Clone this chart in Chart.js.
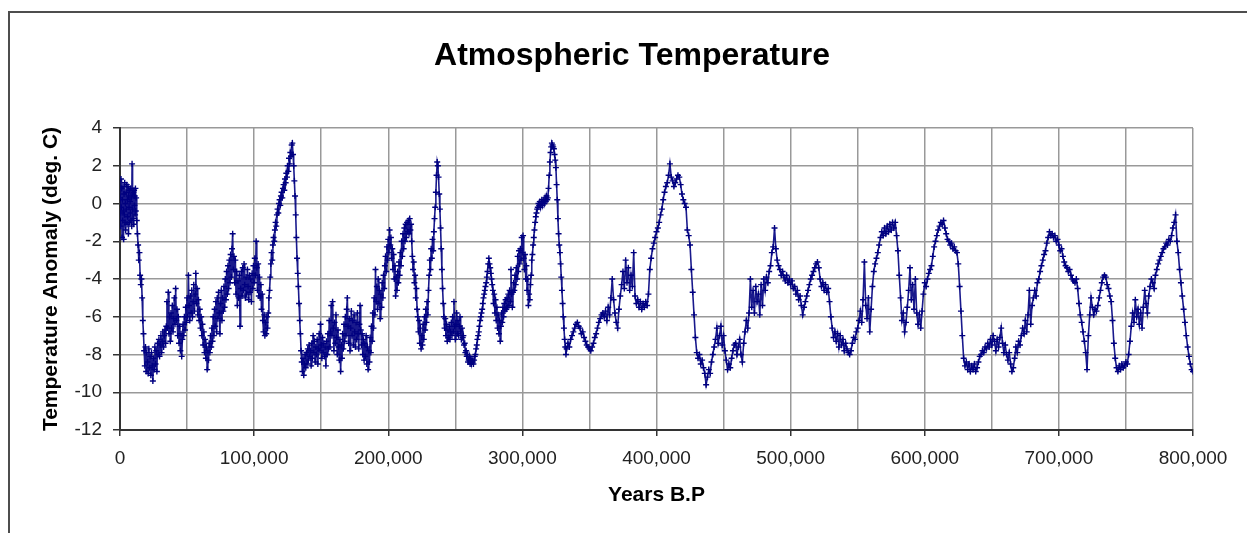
<!DOCTYPE html>
<html><head><meta charset="utf-8">
<script src="https://cdn.jsdelivr.net/npm/chart.js@4.4.1/dist/chart.umd.min.js"></script>
<style>
html,body{margin:0;padding:0;background:#fff;overflow:hidden}
#wrap{position:relative;width:1247px;height:533px}
#frame{position:absolute;left:8px;top:11px;width:1300px;height:600px;border-top:2px solid #4d4d4d;border-left:2px solid #4d4d4d}
canvas{position:absolute;left:0;top:0}
</style></head><body>
<div id="wrap"><div id="frame"></div><canvas id="c" width="1247" height="533"></canvas></div>
<script>
// Age in thousands of years before present
const ageKyr = [
0,0.25,0.5,0.75,1,1.25,1.5,1.75,2,2.25,
2.5,2.75,3,3.25,3.5,3.75,4,4.25,4.5,4.75,
5,5.25,5.5,5.75,6,6.25,6.5,6.75,7,7.25,
7.5,7.75,8,8.25,8.5,8.75,9,9.25,9.5,9.75,
10,10.25,10.5,10.75,11,11.25,11.5,11.75,12,12.5,
13,
13.5,14,14.5,15,15.5,16,16.5,17,17.5,18,
18.5,19,19.5,20,20.5,21,21.5,22,22.5,23,
23.5,24,24.5,25,25.5,26,26.5,27,27.5,28,
28.5,29,29.5,30,30.5,31,31.5,32,32.5,33,
33.5,34,34.5,35,35.5,36,36.5,37,37.5,38,
38.5,39,39.5,40,40.5,41,41.5,42,42.5,43,
43.5,44,44.5,45,45.5,46,46.5,47,47.5,48,
48.5,49,49.5,50,50.5,51,51.5,52,52.5,53,
53.5,54,54.5,55,55.5,56,56.5,57,57.5,58,
58.5,59,59.5,60,60.5,61,61.5,62,62.5,63,
63.5,64,64.5,65,65.5,66,66.5,67,67.5,68,
68.5,69,69.5,70,70.5,71,71.5,72,72.5,73,
73.5,74,74.5,75,75.5,76,76.5,77,77.5,78,
78.5,79,79.5,80,80.5,81,81.5,82,82.5,83,
83.5,84,84.5,85,85.5,86,86.5,87,87.5,88,
88.5,89,89.5,90,90.5,91,91.5,92,92.5,93,
93.5,94,94.5,95,95.5,96,96.5,97,97.5,98,
98.5,99,99.5,100,100.5,101,101.5,102,102.5,103,
103.5,104,104.5,105,105.5,106,106.5,107,107.5,108,
108.5,109,109.5,110,110.5,111,111.5,112,112.5,113,
113.5,114,114.5,115,115.5,116,116.5,117,117.5,118,
118.5,119,119.5,120,120.5,121,121.5,122,122.5,123,
123.5,124,124.5,125,125.5,126,126.5,127,127.5,128,
128.5,129,129.5,130,130.5,131,131.5,132,132.5,133,
133.5,134,134.5,135,135.5,136,136.5,137,137.5,138,
138.5,139,139.5,140,140.5,141,141.5,142,142.5,143,
143.5,144,144.5,145,145.5,146,146.5,147,147.5,148,
148.5,149,149.5,150,150.5,151,151.5,152,152.5,153,
153.5,154,154.5,155,155.5,156,156.5,157,157.5,158,
158.5,159,159.5,160,160.5,161,161.5,162,162.5,163,
163.5,164,164.5,165,165.5,166,166.5,167,167.5,168,
168.5,169,169.5,170,170.5,171,171.5,172,172.5,173,
173.5,174,174.5,175,175.5,176,176.5,177,177.5,178,
178.5,179,179.5,180,180.5,181,181.5,182,182.5,183,
183.5,184,184.5,185,185.5,186,186.5,187,187.5,188,
188.5,189,189.5,190,190.5,191,191.5,192,192.5,193,
193.5,194,194.5,195,195.5,196,196.5,197,197.5,198,
198.5,199,199.5,200,200.5,201,201.5,202,202.5,203,
203.5,204,204.5,205,205.5,206,206.5,207,207.5,208,
208.5,209,209.5,210,210.5,211,211.5,212,212.5,213,
213.5,214,214.5,215,215.5,216,216.5,217,217.5,218,
218.5,219,219.5,220,220.5,221,221.5,222,222.5,223,
223.5,224,224.5,225,225.5,226,226.5,227,227.5,228,
228.5,229,229.5,230,230.5,231,231.5,232,232.5,233,
233.5,234,234.5,235,235.5,236,236.5,237,237.5,238,
238.5,239,239.5,240,240.5,241,241.5,242,242.5,243,
243.5,244,244.5,245,245.5,246,246.5,247,247.5,248,
248.5,249,249.5,250,250.5,251,251.5,252,252.5,253,
253.5,254,254.5,255,255.5,256,256.5,257,257.5,258,
258.5,259,259.5,260,260.5,261,261.5,262,262.5,263,
263.5,264,264.5,265,265.5,266,266.5,267,267.5,268,
268.5,269,269.5,270,270.5,271,271.5,272,272.5,273,
273.5,274,274.5,275,275.5,276,276.5,277,277.5,278,
278.5,279,279.5,280,280.5,281,281.5,282,282.5,283,
283.5,284,284.5,285,285.5,286,286.5,287,287.5,288,
288.5,289,289.5,290,290.5,291,291.5,292,292.5,293,
293.5,294,294.5,295,295.5,296,296.5,297,297.5,298,
298.5,299,299.5,300,300.5,301,301.5,302,302.5,303,
303.5,304,304.5,305,305.5,306,306.5,307,307.5,308,
308.5,309,309.5,310,310.5,311,311.5,312,312.5,313,
313.5,314,314.5,315,315.5,316,316.5,317,317.5,318,
318.5,319,319.5,320,320.5,321,321.5,322,322.5,323,
323.5,324,324.5,325,325.5,326,326.5,327,327.5,328,
328.5,329,329.5,330,330.5,331,331.5,332,332.5,333,
334,335,336,337,338,339,340,341,342,343,
344,345,346,347,348,349,350,351,352,353,
354,355,356,357,358,359,360,361,362,363,
364,365,366,367,368,369,370,371,372,373,
374,375,376,377,378,379,380,381,382,383,
384,385,386,387,388,389,390,391,392,393,
394,395,396,397,398,399,400,401,402,403,
404,405,406,407,408,409,410,411,412,413,
414,415,416,417,418,419,420,421,422,423,
424,425,426,427,428,429,430,431,432,433,
434,435,436,437,438,439,440,441,442,443,
444,445,446,447,448,449,450,451,452,453,
454,455,456,457,458,459,460,461,462,463,
464,465,466,467,468,469,470,471,472,473,
474,475,476,477,478,479,480,481,482,483,
484,485,486,487,488,489,490,491,492,493,
494,495,496,497,498,499,500,501,502,503,
504,505,506,507,508,509,510,511,512,513,
514,515,516,517,518,519,520,521,522,523,
524,525,526,527,528,529,530,531,532,533,
534,535,536,537,538,539,540,541,542,543,
544,545,546,547,548,549,550,551,552,553,
554,555,556,557,558,559,560,561,562,563,
564,565,566,567,568,569,570,571,572,573,
574,575,576,577,578,579,580,581,582,583,
584,585,586,587,588,589,590,591,592,593,
594,595,596,597,598,599,600,601,602,603,
604,605,606,607,608,609,610,611,612,613,
614,615,616,617,618,619,620,621,622,623,
624,625,626,627,628,629,630,631,632,633,
634,635,636,637,638,639,640,641,642,643,
644,645,646,647,648,649,650,651,652,653,
654,655,656,657,658,659,660,661,662,663,
664,665,666,667,668,669,670,671,672,673,
674,675,676,677,678,679,680,681,682,683,
684,685,686,687,688,689,690,691,692,693,
694,695,696,697,698,699,700,701,702,703,
704,705,706,707,708,709,710,711,712,713,
714,715,716,717,718,719,720,721,722,723,
724,725,726,727,728,729,730,731,732,733,
734,735,736,737,738,739,740,741,742,743,
744,745,746,747,748,749,750,751,752,753,
754,755,756,757,758,759,760,761,762,763,
764,765,766,767,768,769,770,771,772,773,
774,775,776,777,778,779,780,781,782,783,
784,785,786,787,788,789,790,791,792,793,
794,795,796,797,798,799,800
];

// Temperature anomaly, deg. C
const tempC = [
-0.5,0.3,-1.2,1.3,-0.2,0.8,-1.8,0.2,-0.9,0.9,
-0.4,-1.9,0.5,-0.6,1.1,-1.0,0.0,-1.4,0.6,-0.3,
1.0,-1.1,0.2,-0.7,0.9,-1.6,0.4,-0.2,0.7,-1.0,
0.1,-0.5,0.8,-0.9,0.3,-1.2,2.1,-0.3,0.5,-0.8,
0.6,-1.1,0.7,-0.1,0.4,-0.6,0.8,-0.4,0.3,-0.9,
-1.6,
-2.2,-3.0,-2.6,-3.8,-4.3,-4.0,-5.0,-6.2,-6.9,-7.8,
-8.6,-7.6,-8.9,-7.9,-8.4,-9.0,-7.7,-8.7,-8.1,-9.1,
-7.9,-8.6,-9.4,-8.2,-8.8,-7.6,-8.5,-7.8,-8.9,-7.4,
-8.0,-7.2,-8.1,-7.5,-7.0,-7.9,-7.3,-6.8,-7.6,-7.0,
-6.7,-7.4,-6.5,-5.2,-6.6,-4.7,-6.9,-6.0,-7.3,-5.8,
-6.6,-5.4,-6.8,-6.1,-5.0,-6.4,-4.5,-6.2,-5.6,-7.0,
-6.0,-7.4,-6.5,-7.8,-6.9,-8.1,-7.2,-6.4,-7.0,-6.0,
-6.7,-5.5,-6.3,-5.0,-6.0,-3.8,-5.4,-6.2,-4.9,-5.8,
-4.6,-6.0,-5.2,-4.3,-5.7,-4.8,-3.7,-5.3,-4.5,-5.9,
-5.1,-6.2,-5.6,-6.6,-6.0,-7.0,-6.4,-7.5,-6.8,-7.9,
-7.2,-8.2,-7.6,-8.8,-7.8,-8.3,-7.4,-7.9,-7.0,-7.6,
-6.6,-7.3,-6.0,-7.0,-5.6,-6.5,-5.2,-6.8,-5.0,-6.1,
-4.7,-5.8,-6.9,-5.3,-4.6,-6.2,-5.0,-5.7,-4.4,-5.5,
-4.0,-5.1,-3.6,-4.8,-3.3,-4.5,-3.0,-4.2,-2.7,-3.9,
-2.4,-1.6,-3.5,-2.8,-4.2,-3.0,-4.8,-3.6,-5.4,-4.1,
-5.0,-3.8,-6.5,-4.5,-3.6,-4.9,-3.4,-4.6,-3.2,-4.3,
-5.0,-3.9,-4.8,-3.5,-4.4,-5.1,-3.8,-4.7,-4.0,-5.2,
-3.7,-4.5,-3.3,-4.2,-2.9,-3.8,-2.0,-3.4,-4.6,-3.2,
-4.9,-3.9,-5.0,-4.3,-5.6,-4.8,-6.2,-6.8,-5.9,-7.0,
-6.3,-6.9,-6.0,-6.6,-5.8,-5.0,-4.6,-3.9,-3.2,-2.6,
-3.0,-2.2,-1.8,-2.0,-1.4,-1.0,-1.2,-0.6,-0.3,-0.5,
0.0,0.2,-0.1,0.4,0.6,0.3,0.8,1.0,0.7,1.3,
1.1,1.6,1.4,2.0,1.7,2.4,2.1,2.7,2.5,3.1,
3.2,2.6,2.0,1.2,0.4,-0.6,-1.8,-2.9,-3.7,-4.4,
-5.3,-6.2,-6.9,-7.8,-8.4,-8.9,-8.2,-9.1,-8.5,-8.0,
-8.7,-7.9,-8.5,-7.7,-8.3,-7.5,-8.1,-7.8,-8.6,-7.4,
-8.2,-7.0,-7.9,-7.3,-8.4,-7.6,-8.0,-7.2,-8.5,-7.7,
-6.9,-7.8,-6.4,-7.5,-8.2,-7.1,-7.9,-7.4,-8.1,-7.6,
-8.6,-7.3,-8.0,-6.9,-7.7,-6.2,-7.6,-6.8,-5.4,-7.0,
-5.2,-6.6,-7.8,-6.3,-7.4,-5.9,-7.1,-8.0,-6.7,-7.6,
-8.3,-7.2,-8.9,-7.5,-8.2,-6.9,-7.7,-6.4,-7.3,-6.0,
-7.0,-5.6,-5.0,-6.5,-7.4,-6.1,-7.8,-6.6,-5.7,-7.0,
-6.2,-7.5,-5.9,-6.8,-7.6,-6.3,-7.2,-5.8,-6.9,-7.7,
-6.4,-5.4,-6.7,-7.5,-6.9,-8.0,-7.2,-8.3,-7.4,-8.1,
-7.0,-8.5,-7.6,-8.8,-7.8,-8.4,-7.1,-7.9,-6.5,-7.3,
-5.8,-6.6,-5.0,-5.9,-3.5,-5.2,-4.4,-5.6,-4.0,-5.3,
-4.6,-6.1,-4.8,-5.5,-4.2,-5.0,-3.8,-4.5,-3.3,-2.8,
-3.6,-2.3,-3.0,-1.9,-2.6,-1.4,-2.2,-1.8,-2.9,-2.4,
-3.5,-2.7,-4.0,-3.3,-4.9,-3.9,-4.6,-3.6,-4.2,-3.1,
-3.8,-2.6,-3.3,-2.0,-2.8,-1.6,-2.4,-1.3,-2.0,-1.1,
-1.8,-1.0,-1.5,-0.9,-1.6,-0.8,-1.4,-1.1,-2.0,-2.8,
-3.5,-3.1,-4.2,-3.8,-5.0,-4.5,-5.6,-6.0,-6.8,-6.2,
-7.4,-6.6,-7.7,-7.0,-7.5,-6.4,-7.2,-6.0,-6.7,-5.6,
-6.3,-5.2,-5.9,-4.6,-3.8,-3.0,-3.5,-2.4,-2.9,-1.9,
-2.5,-1.5,-0.8,-0.2,0.6,1.5,2.2,2.0,1.4,0.5,
-0.3,-1.3,-2.4,-3.5,-4.5,-5.3,-6.0,-6.6,-6.1,-7.0,
-6.4,-7.3,-6.7,-7.1,-6.5,-7.2,-6.8,-6.3,-7.0,-6.0,
-6.8,-5.2,-6.5,-7.2,-6.4,-5.8,-6.9,-6.2,-7.0,-6.5,
-6.0,-6.8,-7.2,-6.6,-7.1,-7.0,-7.5,-7.4,-7.9,-7.8,
-8.1,-8.0,-8.4,-8.3,-8.1,-8.5,-8.2,-8.5,-8.3,-8.4,
-8.5,-8.3,-8.1,-8.0,-7.7,-7.5,-7.2,-7.0,-6.8,-6.5,
-6.2,-6.0,-5.8,-5.6,-5.3,-5.0,-4.8,-4.6,-4.4,-4.2,
-3.9,-3.6,-3.2,-2.9,-3.2,-3.4,-3.7,-4.0,-4.3,-4.6,
-5.3,-4.8,-5.8,-5.1,-6.2,-5.5,-6.6,-5.9,-6.9,-6.2,
-7.3,-6.5,-5.8,-6.3,-5.5,-6.0,-5.3,-5.7,-5.1,-5.6,
-5.0,-5.5,-4.8,-5.4,-4.6,-5.2,-3.5,-4.8,-5.5,-4.7,
-4.2,-4.6,-3.8,-4.3,-3.4,-4.0,-2.8,-3.6,-2.5,-3.2,
-2.4,-3.0,-1.8,-2.6,-1.7,-2.9,-3.5,-2.7,-4.0,-3.3,
-4.6,-4.0,-5.4,-4.8,-5.1,-4.3,-3.8,-3.0,-2.7,-2.2,
-1.8,-1.4,-1.0,-0.7,-0.5,-0.3,-0.2,0.0,-0.1,0.1,
-0.2,0.0,0.2,-0.1,0.1,0.2,0.0,0.3,0.1,0.4,
0.2,0.3,0.8,1.5,2.2,2.7,3.0,3.2,3.1,3.0,
2.9,2.6,2.3,1.9,1.0,0.2,-0.8,-1.6,-2.2,-2.6,
-3.2,-3.9,-4.6,-5.3,-6.0,-6.6,-7.2,-7.6,-8.0,-7.7,
-7.4,-7.6,-7.2,-7.0,-6.8,-6.6,-6.4,-6.3,-6.5,-6.6,
-6.9,-6.8,-7.1,-7.3,-7.5,-7.6,-7.7,-7.8,-7.6,-7.4,
-7.1,-6.9,-6.6,-6.3,-6.1,-5.9,-5.8,-6.0,-5.7,-6.2,
-5.5,-5.9,-5.0,-4.0,-5.1,-5.8,-6.3,-6.6,-5.6,-4.9,
-4.3,-3.6,-4.5,-3.0,-4.2,-3.4,-4.6,-3.8,-4.4,-2.6,
-4.9,-5.3,-5.1,-5.5,-5.2,-5.6,-5.3,-5.5,-5.2,-5.4,
-4.8,-3.5,-2.9,-2.4,-2.1,-1.8,-1.5,-1.3,-1.0,-0.6,
-0.3,0.2,0.6,0.9,1.1,1.5,2.1,1.4,1.2,0.9,
1.1,1.3,1.5,1.4,1.0,0.5,0.2,0.0,-0.2,-1.4,
-1.7,-2.2,-3.5,-4.7,-5.9,-7.1,-7.9,-8.2,-8.0,-8.5,
-8.3,-8.7,-9.0,-9.6,-9.2,-8.8,-9.0,-8.4,-8.0,-7.6,
-7.2,-6.6,-7.4,-7.0,-6.5,-7.5,-7.0,-7.8,-8.3,-8.8,
-8.5,-8.7,-8.2,-7.8,-7.5,-7.4,-8.0,-7.6,-7.2,-8.0,
-8.4,-7.4,-6.8,-6.2,-6.6,-5.8,-4.0,-5.5,-4.6,-5.8,
-4.4,-5.2,-4.8,-5.9,-4.3,-5.4,-4.0,-4.6,-3.9,-4.2,
-3.6,-3.3,-2.6,-2.3,-1.3,-2.4,-3.0,-3.3,-3.5,-3.8,
-3.6,-3.9,-4.1,-3.8,-4.2,-4.0,-4.3,-4.1,-4.5,-4.4,
-4.8,-4.6,-5.1,-4.9,-5.4,-5.9,-5.5,-5.2,-4.9,-4.6,
-4.3,-4.0,-3.8,-3.6,-3.4,-3.2,-3.1,-3.4,-4.0,-4.4,
-4.2,-4.6,-4.3,-4.7,-4.5,-5.2,-6.0,-6.6,-7.1,-6.8,
-7.3,-6.9,-7.6,-7.0,-7.5,-7.2,-7.8,-7.4,-7.7,-7.9,
-8.0,-7.8,-7.4,-7.1,-7.2,-6.8,-6.6,-6.2,-5.7,-6.3,
-5.1,-3.1,-5.4,-6.1,-5.0,-6.8,-5.6,-4.4,-3.6,-3.2,
-2.9,-2.6,-2.2,-1.8,-1.5,-1.7,-1.3,-1.6,-1.2,-1.5,
-1.1,-1.4,-1.0,-1.3,-1.0,-1.7,-2.5,-3.8,-5.0,-6.2,
-5.8,-6.8,-6.3,-5.5,-4.6,-3.4,-5.1,-4.3,-5.6,-4.0,
-5.8,-6.4,-5.9,-6.6,-5.7,-4.8,-4.2,-4.4,-4.0,-3.7,
-3.5,-3.3,-2.8,-2.3,-2.0,-1.7,-1.4,-1.2,-1.0,-1.1,
-0.9,-1.3,-1.6,-1.9,-2.0,-2.2,-2.1,-2.4,-2.3,-2.5,
-2.6,-3.2,-4.4,-5.7,-7.0,-8.2,-8.6,-8.4,-8.8,-8.5,
-8.9,-8.6,-8.8,-8.5,-8.9,-8.7,-8.4,-8.1,-8.0,-7.8,
-7.9,-7.6,-7.7,-7.4,-7.6,-7.2,-7.5,-7.0,-7.3,-7.8,
-7.2,-7.6,-7.1,-6.6,-7.4,-7.9,-7.5,-8.0,-8.3,-7.9,
-8.5,-8.9,-8.7,-8.2,-7.6,-7.9,-7.3,-7.5,-7.0,-6.6,
-6.9,-6.2,-6.8,-5.9,-4.6,-6.4,-5.4,-5.0,-4.6,-4.9,
-4.2,-4.0,-3.6,-3.3,-3.0,-2.7,-2.5,-2.1,-1.8,-1.5,
-1.7,-1.6,-1.8,-1.7,-2.0,-1.9,-2.2,-2.5,-2.4,-2.8,
-3.1,-3.3,-3.4,-3.6,-3.5,-3.8,-4.0,-4.1,-4.2,-4.0,
-4.5,-5.3,-5.9,-6.3,-6.8,-7.3,-7.9,-8.8,-7.0,-5.9,
-5.0,-5.5,-5.9,-5.6,-5.7,-5.4,-5.0,-4.6,-4.2,-3.9,
-3.8,-3.9,-4.3,-4.5,-4.9,-5.2,-6.2,-7.4,-8.2,-8.7,
-8.9,-8.6,-8.8,-8.5,-8.7,-8.6,-8.4,-8.5,-8.0,-7.3,
-6.5,-5.8,-6.3,-5.1,-6.0,-5.6,-6.4,-5.8,-6.6,-5.5,
-4.6,-5.3,-5.8,-4.9,-4.4,-4.0,-4.2,-4.5,-3.8,-3.5,
-3.2,-3.0,-2.8,-2.6,-2.4,-2.3,-2.1,-2.2,-1.9,-2.0,
-1.7,-1.3,-1.0,-0.6,-2.0,-2.6,-3.5,-4.2,-4.9,-5.6,
-6.3,-7.0,-7.6,-8.1,-8.5,-8.8,-8.9
];

const xTickValues = [0,100000,200000,300000,400000,500000,600000,700000,800000];
const xTickLabels = ['0','100,000','200,000','300,000','400,000','500,000','600,000','700,000','800,000'];
const yTickValues = [4,2,0,-2,-4,-6,-8,-10,-12];

const FONT = '"Liberation Sans", Arial, sans-serif';
const points = ageKyr.map((a, i) => ({ x: a * 1000, y: tempC[i] }));

new Chart(document.getElementById('c'), {
  type: 'line',
  data: {
    datasets: [{
      data: points,
      borderColor: 'rgba(0,0,128,0.9)',
      borderWidth: 1.6,
      pointStyle: 'cross',
      pointRadius: 3,
      pointBorderWidth: 1.4,
      pointBorderColor: '#000080',
      pointBackgroundColor: '#000080',
      tension: 0,
      fill: false,
      xAxisID: 'x',
      yAxisID: 'y'
    }]
  },
  options: {
    responsive: false,
    animation: false,
    devicePixelRatio: 1,
    layout: { padding: { left: 17, right: 0, top: 0, bottom: 0 } },
    plugins: {
      legend: { display: false },
      tooltip: { enabled: false },
      title: {
        display: true,
        text: 'Atmospheric Temperature',
        color: '#000',
        font: { family: FONT, size: 32, weight: 'bold' },
        padding: { top: 37, bottom: 52.6 }
      }
    },
    scales: {
      x: {
        type: 'linear',
        position: 'bottom',
        min: 0,
        max: 800000,
        afterFit(s) { s.height = 103; },
        ticks: {
          stepSize: 50000,
          autoSkip: false,
          maxRotation: 0,
          padding: 11,
          color: '#222',
          font: { family: FONT, size: 19 },
          callback: (v) => { const k = xTickValues.indexOf(v); return k >= 0 ? xTickLabels[k] : ''; }
        },
        grid: {
          color: '#999',
          lineWidth: 1.5,
          tickLength: 6,
          tickColor: (ctx) => (ctx.tick && xTickValues.indexOf(ctx.tick.value) >= 0) ? '#333' : 'rgba(0,0,0,0)'
        },
        border: { display: true, color: '#333', width: 2 },
        title: {
          display: true,
          text: 'Years B.P',
          color: '#000',
          font: { family: FONT, size: 21, weight: 'bold' },
          padding: { top: 0, bottom: 25 }
        }
      },
      y: {
        type: 'linear',
        position: 'left',
        min: -12,
        max: 4,
        afterFit(s) { s.width = 103; },
        afterBuildTicks(s) { s.ticks = yTickValues.map(v => ({ value: v })); },
        ticks: {
          padding: 11,
          color: '#222',
          font: { family: FONT, size: 19 },
          callback: (v) => String(v)
        },
        grid: { color: '#999', lineWidth: 1.5, tickLength: 7, tickColor: '#333' },
        border: { display: true, color: '#333', width: 2 },
        title: {
          display: true,
          text: 'Temperature Anomaly (deg. C)',
          color: '#000',
          font: { family: FONT, size: 21, weight: 'bold' },
          padding: { top: 22, bottom: 0 }
        }
      },
      y2: {
        type: 'linear',
        position: 'right',
        display: true,
        afterFit(s) { s.width = 54; },
        grid: { display: false, drawTicks: false },
        ticks: { display: false },
        border: { display: false }
      }
    }
  }
});
</script>
</body></html>
